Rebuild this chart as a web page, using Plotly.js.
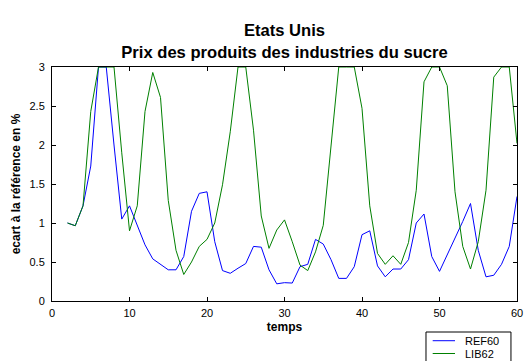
<!DOCTYPE html>
<html>
<head>
<meta charset="utf-8">
<script src="https://cdn.plot.ly/plotly-3.0.1.min.js"></script>
<style>html,body{margin:0;padding:0;background:#fff;}#chart{width:525px;height:361px;}</style>
</head>
<body>
<div id="chart"></div>
<script>
// temps (x values)
var temps = [2,3,4,5,6,7,8,9,10,11,12,13,14,15,16,17,18,19,20,21,22,23,24,25,26,27,28,29,30,31,32,33,34,35,36,37,38,39,40,41,42,43,44,45,46,47,48,49,50,51,52,53,54,55,56,57,58,59,60];
// REF60 series
var ref60 = [1.00,0.965,1.22,1.73,3.00,3.00,2.00,1.05,1.22,0.97,0.72,0.54,0.47,0.40,0.40,0.57,1.15,1.38,1.40,0.76,0.39,0.355,0.42,0.48,0.70,0.69,0.40,0.22,0.235,0.23,0.44,0.47,0.79,0.73,0.53,0.29,0.29,0.44,0.85,0.90,0.45,0.31,0.41,0.41,0.53,1.00,1.115,0.57,0.38,0.59,0.80,1.02,1.25,0.65,0.31,0.33,0.47,0.70,1.34];
// LIB62 series
var lib62 = [1.00,0.965,1.22,2.43,3.00,3.00,3.00,1.90,0.90,1.22,2.43,2.93,2.61,1.29,0.65,0.34,0.50,0.70,0.79,1.00,1.49,2.17,3.00,3.00,2.19,1.09,0.675,0.91,1.04,0.76,0.46,0.39,0.63,0.97,1.98,3.00,3.00,3.00,2.47,1.22,0.61,0.47,0.58,0.47,0.75,1.42,2.81,3.00,3.00,2.76,1.40,0.70,0.41,0.76,1.42,2.87,3.00,3.00,2.02];
var seriesNames = ["REF60", "LIB62"];
var seriesColors = ["#0000ff", "#008000"];
var xTicks = [0,10,20,30,40,50,60];
var yTicks = [0,0.5,1,1.5,2,2.5,3];
var yTickText = ["0","0.5","1","1.5","2","2.5","3"];

var FONT = "Liberation Sans, Arial, Helvetica, sans-serif";
var seriesData = [ref60, lib62];

var traces = seriesData.map(function(d, i){
  return {x: temps, y: d, type: 'scatter', mode: 'lines', name: seriesNames[i],
          line: {color: seriesColors[i], width: 1}, showlegend: false};
});

// custom legend (box + sample lines + labels)
var lgX0 = 0.8043, lgX1 = 0.987, lgTop = -0.1325, lgBottom = -0.32;
var lineX0 = 0.8187, lineX1 = 0.8667, textX = 0.8839;
var rowY = [-0.1697, -0.2244];
var shapes = [{type:'rect', xref:'paper', yref:'paper', x0:lgX0, x1:lgX1, y0:lgBottom, y1:lgTop,
               line:{color:'#000', width:1}, fillcolor:'#fff', layer:'above'}];
var annotations = [];
seriesNames.forEach(function(n, i){
  shapes.push({type:'line', xref:'paper', yref:'paper', x0:lineX0, x1:lineX1, y0:rowY[i], y1:rowY[i],
               line:{color:seriesColors[i], width:1}, layer:'above'});
  annotations.push({xref:'paper', yref:'paper', x:textX, y:rowY[i], xanchor:'left', yanchor:'middle',
               text:n, showarrow:false, font:{family:FONT, size:11, color:'#000'}});
});

var axisCommon = {
  showline: true, linecolor: '#000', linewidth: 1, mirror: 'ticks',
  ticks: 'inside', ticklen: 4, tickwidth: 1, tickcolor: '#000',
  showgrid: false, zeroline: false, fixedrange: true,
  tickfont: {family: FONT, size: 11, color: '#000'}
};

var layout = {
  width: 525, height: 361,
  paper_bgcolor: '#fff', plot_bgcolor: '#fff',
  margin: {l: 52, r: 8, t: 67, b: 60, pad: 0},
  font: {family: FONT, color: '#000'},
  title: {text: '<b>Etats Unis</b><br><b>Prix des produits des industries du sucre</b>',
          font: {family: FONT, size: 16.6, color: '#000'},
          xref: 'paper', x: 0.5, xanchor: 'center',
          yref: 'container', y: 1 - 36/361, yanchor: 'top'},
  xaxis: Object.assign({}, axisCommon, {
    range: [0, 60], tickmode: 'array', tickvals: xTicks, ticktext: xTicks.map(String),
    ticklabelstandoff: 2,
    title: {text: '<b>temps</b>', font: {family: FONT, size: 12, color: '#000'}, standoff: 4}
  }),
  yaxis: Object.assign({}, axisCommon, {
    range: [0, 3], tickmode: 'array', tickvals: yTicks, ticktext: yTickText,
    ticklabelstandoff: 4,
    title: {text: '<b>ecart à la référence en %</b>', font: {family: FONT, size: 12, color: '#000'}, standoff: 6}
  }),
  shapes: shapes,
  annotations: annotations
};

Plotly.newPlot('chart', traces, layout, {displayModeBar: false, staticPlot: true});
</script>
</body>
</html>
